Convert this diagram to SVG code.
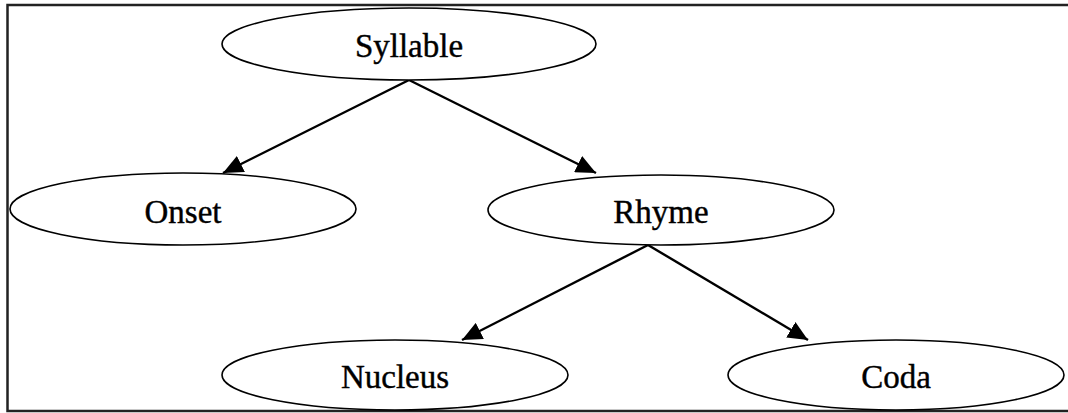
<svg xmlns="http://www.w3.org/2000/svg" width="1068" height="413" viewBox="0 0 1068 413">
<defs>
<style>
.node ellipse{fill:#fff;stroke:#000;stroke-width:1.6}
.node text{font-family:"Liberation Serif","DejaVu Serif",serif;font-size:33px;text-anchor:middle;fill:#000;stroke:#000;stroke-width:0.4}
.edge{stroke:#000;stroke-width:2.4;fill:none;marker-end:url(#ah)}
</style>
<marker id="ah" markerUnits="userSpaceOnUse" markerWidth="22" markerHeight="18" refX="20" refY="9" orient="auto">
<path d="M0,0 L20,9 L0,18 Z" fill="#000"/>
</marker>
</defs>
<rect x="0" y="0" width="1068" height="413" fill="#fff"/>
<path d="M1068,5 H7.5 V411 H1068" fill="none" stroke="#222" stroke-width="2.5"/>
<g id="connectors">
<line class="edge" x1="409" y1="80" x2="223" y2="173"/>
<line class="edge" x1="409" y1="80" x2="596" y2="173"/>
<line class="edge" x1="648" y1="245" x2="462" y2="340"/>
<line class="edge" x1="648" y1="245" x2="808" y2="340"/>
</g>
<g id="syllable" class="node"><ellipse cx="409" cy="44" rx="187" ry="36"/><text x="409" y="57">Syllable</text></g>
<g id="onset" class="node"><ellipse cx="183" cy="209" rx="173" ry="36"/><text x="183" y="223">Onset</text></g>
<g id="rhyme" class="node"><ellipse cx="661" cy="210" rx="173" ry="35"/><text x="661" y="223">Rhyme</text></g>
<g id="nucleus" class="node"><ellipse cx="395" cy="375" rx="173" ry="35"/><text x="395" y="388">Nucleus</text></g>
<g id="coda" class="node"><ellipse cx="896" cy="375" rx="168" ry="35"/><text x="896" y="388">Coda</text></g>
</svg>
